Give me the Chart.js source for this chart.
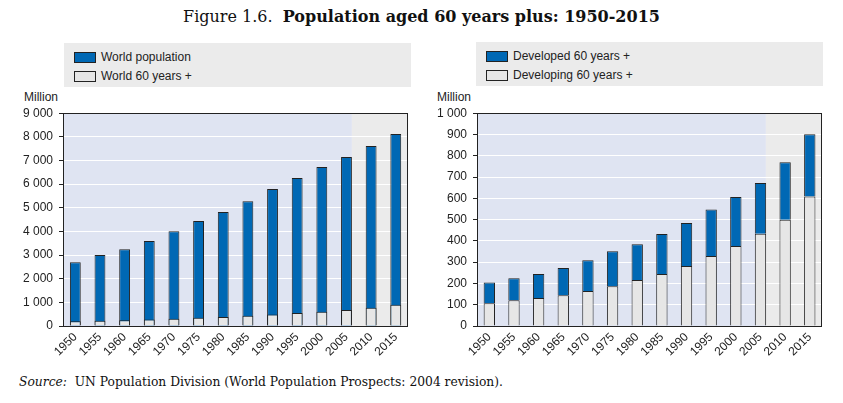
<!DOCTYPE html>
<html>
<head>
<meta charset="utf-8">
<script src="https://cdn.jsdelivr.net/npm/chart.js@4/dist/chart.umd.min.js"></script>
<style>
  body { margin: 0; background: #fff; }
  #page { position: relative; width: 843px; height: 403px; overflow: hidden; font-family: 'Liberation Sans', Arial, sans-serif; color: #222; }
  .title { position: absolute; left: 0; top: 7px; width: 843px; text-align: center; font-family: 'DejaVu Serif', serif; font-size: 16px; color: #111; }
  .title b { font-weight: bold; }
  .legend { position: absolute; width: 347px; height: 44px; background: #ebebeb; font-size: 12px; }
  .legend .row { position: absolute; left: 10px; height: 12px; line-height: 12px; white-space: nowrap; }
  .legend .sw { display: inline-block; width: 20px; height: 9px; border: 1px solid #222; vertical-align: top; margin-top: 1px; margin-right: 5px; }
  .unit { position: absolute; top: 90px; font-size: 12px; }
  .source { position: absolute; left: 19px; top: 375px; font-family: 'DejaVu Serif', serif; font-size: 12.3px; color: #111; }
  canvas { position: absolute; }
</style>
</head>
<body>
<div id="page">
  <div class="title">Figure 1.6.&nbsp; <b>Population aged 60 years plus: 1950-2015</b></div>

  <div class="legend" style="left:64px; top:43px;">
    <div class="row" style="top:8px;"><span class="sw" style="background:#0068b4"></span>World population</div>
    <div class="row" style="top:27px;"><span class="sw" style="background:#e6e6e6"></span>World 60 years +</div>
  </div>
  <div class="legend" style="left:476px; top:42px;">
    <div class="row" style="top:8px;"><span class="sw" style="background:#0068b4"></span>Developed 60 years +</div>
    <div class="row" style="top:27px;"><span class="sw" style="background:#e6e6e6"></span>Developing 60 years +</div>
  </div>

  <div class="unit" style="left:24px;">Million</div>
  <div class="unit" style="left:437px;">Million</div>

  <canvas id="left" width="410" height="266" style="left:0; top:100px;"></canvas>
  <canvas id="right" width="404" height="266" style="left:420px; top:100px;"></canvas>

  <div class="source"><i>Source:</i>&nbsp; UN Population Division (World Population Prospects: 2004 revision).</div>
</div>

<script>
const years = ['1950', '1955', '1960', '1965', '1970', '1975', '1980', '1985', '1990', '1995', '2000', '2005', '2010', '2015'];

// left panel, millions
const worldPopulation = [2700, 3000, 3250, 3590, 4010, 4440, 4820, 5280, 5790, 6260, 6720, 7150, 7610, 8120];
const world60 = [205, 224, 244, 272, 309, 351, 384, 432, 484, 547, 606, 672, 769, 901];

// right panel, millions
const developing60 = [107, 121, 131, 145, 164, 187, 216, 244, 282, 329, 376, 433, 499, 608];
const developed60 = [98, 103, 113, 127, 145, 164, 168, 188, 202, 218, 230, 239, 270, 293];

const leftTicks = { max: 9000, step: 1000 };
const rightTicks = { max: 1000, step: 100 };

const BLUE = '#0068b4';
const LIGHT = '#e6e6e6';
const INK = '#222';

Chart.defaults.font.family = "'Liberation Sans', Arial, sans-serif";
Chart.defaults.font.size = 12;
Chart.defaults.color = INK;

// blue backdrop for observed years, grey for projections, plus frame
const backdrop = {
  id: 'backdrop',
  beforeDraw(chart) {
    const { ctx, chartArea: a, scales } = chart;
    const split = scales.x.getPixelForValue(11.22);
    ctx.save();
    ctx.fillStyle = '#dfe4f2';
    ctx.fillRect(a.left, a.top, split - a.left, a.bottom - a.top);
    ctx.fillStyle = '#ebebeb';
    ctx.fillRect(split, a.top, a.right - split, a.bottom - a.top);
    ctx.restore();
  },
  afterDraw(chart) {
    const { ctx, chartArea: a } = chart;
    ctx.save();
    ctx.strokeStyle = INK;
    ctx.lineWidth = 1;
    ctx.strokeRect(Math.round(a.left) + 0.5, Math.round(a.top) + 0.5, Math.round(a.right - a.left) - 1, Math.round(a.bottom - a.top));
    ctx.restore();
  }
};

const spaced = v => String(v).replace(/\B(?=(\d{3})+(?!\d))/g, ' ');

function makeOptions(yWidth, ticks, stackedY) {
  return {
    responsive: false,
    animation: false,
    layout: { padding: { top: 13, right: 1, bottom: 0, left: 0 } },
    plugins: { legend: { display: false }, tooltip: { enabled: false } },
    scales: {
      x: {
        stacked: true,
        grid: { display: false, drawTicks: false },
        border: { display: false },
        ticks: { autoSkip: false, maxRotation: 45, minRotation: 45, padding: 4, font: { size: 12 } },
        afterFit(scale) { scale.height = 40; }
      },
      y: {
        stacked: stackedY,
        min: 0,
        max: ticks.max,
        grid: { color: '#ffffff', lineWidth: 1, tickColor: INK, tickLength: 4, drawTicks: true },
        border: { display: false },
        ticks: { stepSize: ticks.step, padding: 6, callback: v => spaced(v) },
        afterFit(scale) { scale.width = yWidth; }
      }
    }
  };
}

new Chart(document.getElementById('left'), {
  type: 'bar',
  data: {
    labels: years,
    datasets: [
      { label: 'World 60 years +', data: world60, backgroundColor: LIGHT, borderColor: INK, borderWidth: 1, barPercentage: 0.44, categoryPercentage: 1 },
      { label: 'World population', data: worldPopulation, backgroundColor: BLUE, borderColor: INK, borderWidth: 1, barPercentage: 0.44, categoryPercentage: 1 }
    ]
  },
  options: makeOptions(63, leftTicks, false),
  plugins: [backdrop]
});

new Chart(document.getElementById('right'), {
  type: 'bar',
  data: {
    labels: years,
    datasets: [
      { label: 'Developing 60 years +', data: developing60, backgroundColor: LIGHT, borderColor: INK, borderWidth: 1, barPercentage: 0.46, categoryPercentage: 1 },
      { label: 'Developed 60 years +', data: developed60, backgroundColor: BLUE, borderColor: INK, borderWidth: 1, barPercentage: 0.46, categoryPercentage: 1 }
    ]
  },
  options: makeOptions(57, rightTicks, true),
  plugins: [backdrop]
});
</script>
</body>
</html>
